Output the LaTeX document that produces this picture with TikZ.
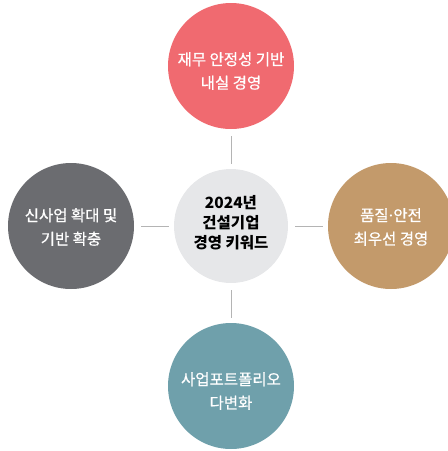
\documentclass[tikz,border=0pt]{standalone}
\usepackage{fontspec}
\setmainfont{Noto Sans CJK KR}
\newfontfamily\kr[FakeBold=0.6]{Noto Sans CJK KR}
\newfontfamily\krb{Noto Sans CJK KR}
\definecolor{cTop}{HTML}{F06A70}
\definecolor{cLeft}{HTML}{6B6C70}
\definecolor{cMid}{HTML}{E6E7E9}
\definecolor{cRight}{HTML}{C39A6B}
\definecolor{cBot}{HTML}{6FA0AB}
\definecolor{cLine}{HTML}{B4B4B4}
\begin{document}
\begin{tikzpicture}[x=1pt,y=-1pt,
  disc/.style={circle,minimum size=126pt,inner sep=0pt},
  outertext/.style={text=white,align=center,inner sep=0pt,
    font=\kr\fontsize{15.5pt}{23.5pt}\selectfont},
  mid/.style={circle,fill=cMid,minimum size=114pt,inner sep=0pt},
  midtext/.style={text=black,align=center,inner sep=0pt,
    font=\krb\bfseries\fontsize{15.5pt}{20pt}\selectfont},
  link/.style={draw=cLine,line width=1pt}]
\useasboundingbox (0,0) rectangle (448,451);
\clip (0,0) rectangle (448,451);
\node[mid] (c) at (231,226) {};
\node[midtext] (ct) at (231,223) {2024년\\건설기업\\경영 키워드};
\node[disc,fill=cTop] (t) at (231,66) {};
\node[outertext] (tt) at (231,71) {재무 안정성 기반\\내실 경영};
\node[disc,fill=cLeft] (l) at (71,226) {};
\node[outertext] (lt) at (71,227) {신사업 확대 및\\기반 확충};
\node[disc,fill=cRight] (r) at (391,226) {};
\node[outertext] (rt) at (391,227) {품질\kern-2pt·\kern-2pt안전\\최우선 경영};
\node[disc,fill=cBot] (b) at (231,386) {};
\node[outertext] (bt) at (231,391) {사업포트폴리오\\다변화};
\coordinate (t1) at (231,136); \coordinate (t2) at (231,164);
\coordinate (b1) at (231,290); \coordinate (b2) at (231,318);
\coordinate (l1) at (141,226); \coordinate (l2) at (169,226);
\coordinate (r1) at (295,226); \coordinate (r2) at (323,226);
\draw[link] (t1) -- (t2);
\draw[link] (b1) -- (b2);
\draw[link] (l1) -- (l2);
\draw[link] (r1) -- (r2);
\end{tikzpicture}
\end{document}
